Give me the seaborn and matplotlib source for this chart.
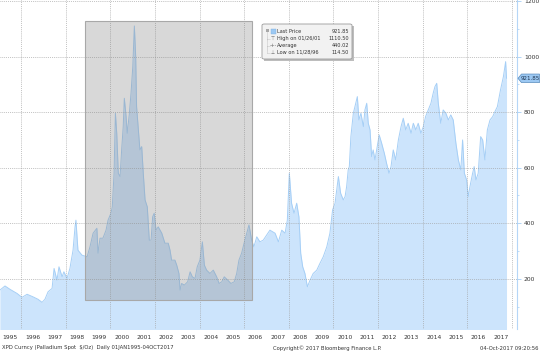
import pandas as pd
import seaborn as sns
import matplotlib.pyplot as plt
import matplotlib.patches as patches

# XPD Curncy, palladium spot $/oz
year = [
    1995.04, 1995.27, 1995.49, 1995.81, 1996.03, 1996.26, 1996.52, 1996.75, 1996.93,
    1997.06, 1997.20, 1997.38, 1997.47, 1997.60, 1997.69, 1997.83, 1997.91,
    1998.05, 1998.18, 1998.32, 1998.41, 1998.45, 1998.54, 1998.72, 1998.95,
    1999.08, 1999.22, 1999.39, 1999.44, 1999.53, 1999.66, 1999.80, 1999.89,
    2000.02, 2000.08, 2000.16, 2000.22, 2000.28, 2000.35, 2000.43, 2000.50,
    2000.57, 2000.62, 2000.70, 2000.75, 2000.84, 2000.92,
    2001.00, 2001.07, 2001.13, 2001.17, 2001.25, 2001.32, 2001.40, 2001.47,
    2001.55, 2001.65, 2001.74, 2001.82, 2001.89, 2001.96,
    2002.04, 2002.14, 2002.30, 2002.44, 2002.59, 2002.67, 2002.74, 2002.89, 2002.97,
    2003.07, 2003.12, 2003.19, 2003.31, 2003.46, 2003.57, 2003.67, 2003.79, 2003.89,
    2004.01, 2004.12, 2004.21, 2004.31, 2004.46, 2004.61, 2004.76, 2004.87, 2004.99,
    2005.10, 2005.26, 2005.40, 2005.55, 2005.66, 2005.76, 2005.88, 2005.99,
    2006.11, 2006.21, 2006.33, 2006.43, 2006.56, 2006.70, 2006.85,
    2007.15, 2007.38, 2007.53, 2007.68, 2007.83, 2007.93,
    2008.02, 2008.12, 2008.23, 2008.35, 2008.45, 2008.53, 2008.62, 2008.72, 2008.83, 2008.95,
    2009.09, 2009.25, 2009.39, 2009.54, 2009.70, 2009.84, 2009.96,
    2010.07, 2010.22, 2010.32, 2010.44, 2010.52, 2010.59, 2010.66, 2010.71, 2010.78, 2010.89,
    2011.00, 2011.07, 2011.14, 2011.23, 2011.34, 2011.41, 2011.49, 2011.56, 2011.64,
    2011.71, 2011.78, 2011.86, 2011.96,
    2012.05, 2012.16, 2012.28, 2012.38, 2012.49, 2012.58, 2012.68, 2012.79, 2012.91,
    2013.03, 2013.13, 2013.24, 2013.35, 2013.48, 2013.58, 2013.69, 2013.80, 2013.92,
    2014.03, 2014.13, 2014.25, 2014.37, 2014.47, 2014.55, 2014.63, 2014.70, 2014.81, 2014.92,
    2015.04, 2015.15, 2015.26, 2015.37, 2015.49, 2015.60, 2015.71, 2015.79, 2015.87, 2015.97,
    2016.04, 2016.12, 2016.24, 2016.31, 2016.39, 2016.49, 2016.60, 2016.69, 2016.79, 2016.90,
    2017.02, 2017.14, 2017.24, 2017.35, 2017.49, 2017.62, 2017.72, 2017.76,
]
price = [
    159, 174, 162, 147, 133, 144, 135, 126, 115,
    126, 153, 165, 237, 195, 243, 207, 225,
    201, 237, 303, 387, 411, 303, 285, 279,
    315, 364, 382, 292, 346, 346, 375, 411,
    436, 459, 580, 796, 724, 580, 568, 664,
    748, 850, 784, 724, 790, 868,
    964, 1110.5, 1000, 820, 736, 664, 676, 580,
    484, 459, 339, 339, 423, 436,
    375, 387, 364, 328, 328, 303, 267, 267, 249,
    219, 159, 183, 177, 189, 225, 207, 201, 243,
    267, 333, 249, 231, 219, 231, 207, 183, 189,
    207, 195, 183, 189, 219, 267, 292, 328,
    364, 394, 339, 315, 351, 333, 339,
    375, 364, 333, 375, 364, 411,
    580, 472, 436, 472, 423, 292, 243, 219, 171, 195,
    219, 231, 255, 279, 315, 364, 448,
    472, 568, 508, 484, 496, 532, 592, 604, 712, 796,
    832, 856, 772, 796, 748, 808, 832, 760, 736,
    640, 664, 628, 676,
    718, 688, 652, 616, 580, 604, 664, 628, 700,
    748, 778, 736, 760, 724, 760, 736, 760, 724,
    748, 784, 808, 832, 868, 892, 904, 832, 760, 808,
    796, 772, 790, 772, 688, 628, 592, 700, 580, 556,
    496, 532, 580, 604, 556, 580, 712, 700, 628, 736,
    772, 784, 802, 820, 880, 928, 982, 921.85,
]
year_labels = list(range(1995, 2018))
price_ticks = [200, 400, 600, 800, 1000, 1200]
highlight = (1998.86, 2006.33, 123, 1128)

legend_rows = ['Last Price', 'High on 01/26/01', 'Average', 'Low on 11/28/96']
legend_vals = ['921.85', '1110.50', '440.02', '114.50']

W, H = 540, 352
TXT = '#333333'
BLUE_LINE = '#a6cff6'
BLUE_FILL = '#cce4fc'

sns.set_style("white")
plt.rcParams['font.family'] = ['DejaVu Sans']

fig = plt.figure(figsize=(W / 100, H / 100), dpi=100)
ax = fig.add_axes([0, 1 - 329 / H, 517 / W, 329 / H])

df = pd.DataFrame({'year': year, 'price': price})
ax.fill_between(df['year'], df['price'], 0, color=BLUE_FILL, lw=0, zorder=1)
sns.lineplot(data=df, x='year', y='price', ax=ax, color=BLUE_LINE, lw=0.7, zorder=2)

x0, x1, y0, y1 = highlight
ax.add_patch(patches.Rectangle((x0, y0), x1 - x0, y1 - y0,
                               facecolor=(0.5, 0.5, 0.5, 0.3),
                               edgecolor='#a8a8a8', lw=0.8, zorder=3))

ax.set_xlim(1995.045, 2018.23)
ax.set_ylim(19, 1204)
ax.set_xlabel('')
ax.set_ylabel('')

for s in ['top', 'left', 'bottom']:
    ax.spines[s].set_visible(False)
ax.spines['right'].set_color('#b5d6f7')
ax.spines['right'].set_linewidth(0.8)

ax.yaxis.tick_right()
ax.set_yticks(price_ticks)
ax.set_yticks([100 + 200 * i for i in range(6)], minor=True)
ax.tick_params(axis='y', which='major', length=3, width=0.6, color=BLUE_LINE,
               labelsize=4.3, labelcolor=TXT, pad=2)
ax.tick_params(axis='y', which='minor', length=1.5, width=0.5, color=BLUE_LINE)

ax.set_xticks([y + 0.5 for y in year_labels])
ax.set_xticklabels([str(y) for y in year_labels])
ax.set_xticks(list(range(1996, 2019, 2)), minor=True)
ax.tick_params(axis='x', which='both', length=0, labelsize=4.3, labelcolor=TXT, pad=4.5)

ax.set_axisbelow(False)
ax.grid(False)
ax.grid(which='major', axis='y', ls=(0, (1, 1.5)), color='#a0a0a0', lw=0.55)
ax.grid(which='minor', axis='x', ls=(0, (1, 1.5)), color='#a0a0a0', lw=0.55)


def fx(px):
    return px / W


def fy(py):
    return 1 - py / H


# last price tag on the right axis
tag_py = ax.transData.transform((2018, price[-1]))[1]
tag_y = H - tag_py
tag = [(518, tag_y), (521.5, tag_y - 4.3), (539.5, tag_y - 4.3),
       (539.5, tag_y + 4.3), (521.5, tag_y + 4.3)]
fig.patches.append(patches.Polygon([(fx(px), fy(py)) for px, py in tag], closed=True,
                                   transform=fig.transFigure, facecolor='#9cc8f2',
                                   edgecolor='#5b8cbc', lw=0.5, zorder=6))
fig.text(fx(530.5), fy(tag_y), '921.85', fontsize=4.0, color='#1f3550',
         ha='center', va='center', zorder=7)

# footer
fig.text(2 / W, 1 - 348 / H, 'XPD Curncy (Palladium Spot  $/Oz)  Daily 01JAN1995-04OCT2017',
         fontsize=3.8, color=TXT, ha='left', va='center')
fig.text(327 / W, 1 - 348 / H, 'Copyright\u00a9 2017 Bloomberg Finance L.P.',
         fontsize=3.8, color=TXT, ha='center', va='center')
fig.text(538 / W, 1 - 348 / H, '04-Oct-2017 09:20:56',
         fontsize=3.8, color=TXT, ha='right', va='center')

# legend box drawn in figure pixels
fig.patches.append(patches.Rectangle((fx(263.5), fy(60.5)), fx(90), 35 / H,
                                     transform=fig.transFigure, facecolor='#bdbdbd',
                                     edgecolor='none', zorder=5))
fig.patches.append(patches.FancyBboxPatch((fx(262), fy(59)), fx(90), 35 / H,
                                          boxstyle='round,pad=0,rounding_size=0.004',
                                          transform=fig.transFigure, facecolor='#f2f2f2',
                                          edgecolor='#9a9a9a', lw=0.6, zorder=6))
row_y = [31.5, 38.5, 45.5, 52.5]
fig.add_artist(plt.Line2D([fx(267), fx(267)], [fy(31), fy(52.5)], transform=fig.transFigure,
                          color='#9a9a9a', lw=0.4, ls=(0, (1, 1)), zorder=7))
fig.patches.append(patches.Rectangle((fx(265.5), fy(32)), fx(3), 3 / H,
                                     transform=fig.transFigure, facecolor='#a8a8a8',
                                     edgecolor='none', zorder=7))
fig.patches.append(patches.Rectangle((fx(270.5), fy(34)), fx(5), 5 / H,
                                     transform=fig.transFigure, facecolor='#9cc8f2',
                                     edgecolor='#7fb2e0', lw=0.3, zorder=7))
icons = ['', '\u22a4', '-+-', '\u22a5']
for ry, label, val, icon in zip(row_y, legend_rows, legend_vals, icons):
    if icon:
        fig.add_artist(plt.Line2D([fx(267), fx(270)], [fy(ry), fy(ry)], transform=fig.transFigure,
                                  color='#9a9a9a', lw=0.4, ls=(0, (1, 1)), zorder=7))
        fig.text(fx(273), fy(ry), icon, fontsize=3.3, color='#666666',
                 ha='center', va='center', zorder=8)
    fig.text(fx(277), fy(ry), label, fontsize=3.6, color=TXT, ha='left', va='center', zorder=8)
    fig.text(fx(349), fy(ry), val, fontsize=3.6, color=TXT, ha='right', va='center', zorder=8)

plt.savefig('out.png', dpi=100)
